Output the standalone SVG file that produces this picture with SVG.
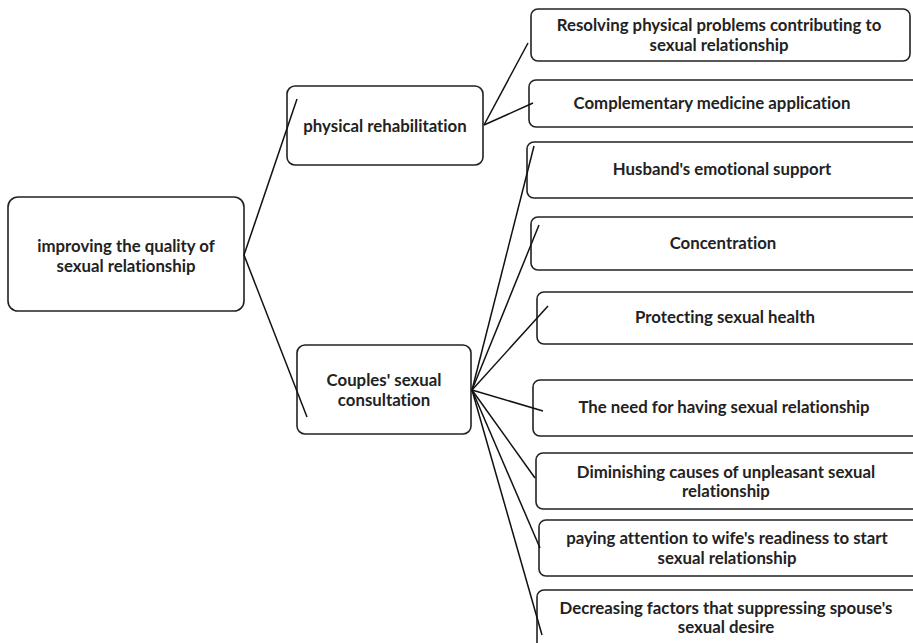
<svg xmlns="http://www.w3.org/2000/svg" width="913" height="643" viewBox="0 0 913 643">
<style>
.box{fill:#fff;stroke:#222;stroke-width:1.6}
.t{font-family:Lato,"Liberation Sans",sans-serif;font-weight:bold;font-size:16.8px;fill:#222;text-anchor:middle;font-variant-ligatures:none}
.c line{stroke:#111;stroke-width:1.5}
</style>
<rect width="913" height="643" fill="#fff"/>
<g id="n-root"><rect class="box" x="8" y="197" width="236" height="114" rx="10"/>
<text class="t" x="126" y="252">improving the quality of</text><text class="t" x="126" y="272">sexual relationship</text></g>
<g id="n-phys"><rect class="box" x="287" y="86" width="196" height="79" rx="8"/>
<text class="t" x="385" y="132">physical rehabilitation</text></g>
<g id="n-couples"><rect class="box" x="297" y="345" width="174" height="89" rx="8"/>
<text class="t" x="384" y="386">Couples' sexual</text><text class="t" x="384" y="406">consultation</text></g>
<g id="n-resolving"><rect class="box" x="531" y="9" width="379" height="52" rx="7"/>
<text class="t" x="719" y="31">Resolving physical problems contributing to</text><text class="t" x="719" y="51">sexual relationship</text></g>
<g id="n-complementary"><rect class="box" x="529" y="80" width="390" height="47" rx="7"/>
<text class="t" x="712" y="109">Complementary medicine application</text></g>
<g id="n-husband"><rect class="box" x="527" y="142" width="392" height="56" rx="7"/>
<text class="t" x="722" y="175">Husband's emotional support</text></g>
<g id="n-concentration"><rect class="box" x="531" y="217" width="388" height="53" rx="7"/>
<text class="t" x="723" y="249">Concentration</text></g>
<g id="n-protecting"><rect class="box" x="537" y="292" width="382" height="52" rx="7"/>
<text class="t" x="725" y="323">Protecting sexual health</text></g>
<g id="n-need"><rect class="box" x="533" y="380" width="386" height="56" rx="7"/>
<text class="t" x="724" y="413">The need for having sexual relationship</text></g>
<g id="n-diminishing"><rect class="box" x="536" y="453" width="383" height="56" rx="7"/>
<text class="t" x="726" y="478">Diminishing causes of unpleasant sexual</text><text class="t" x="726" y="497">relationship</text></g>
<g id="n-paying"><rect class="box" x="539" y="520" width="380" height="56" rx="7"/>
<text class="t" x="727" y="544">paying attention to wife's readiness to start</text><text class="t" x="727" y="564">sexual relationship</text></g>
<g id="n-decreasing"><rect class="box" x="537" y="590" width="382" height="60" rx="7"/>
<text class="t" x="726" y="614">Decreasing factors that suppressing spouse's</text><text class="t" x="726" y="633">sexual desire</text></g>
<g id="connectors" class="c">
<line x1="244" y1="255" x2="297" y2="99"/>
<line x1="244" y1="255" x2="307" y2="417"/>
<line x1="484" y1="125" x2="528" y2="43"/>
<line x1="484" y1="125" x2="533" y2="103"/>
<line x1="472" y1="390" x2="534" y2="146"/>
<line x1="472" y1="390" x2="539" y2="225"/>
<line x1="472" y1="390" x2="548" y2="306"/>
<line x1="472" y1="390" x2="543" y2="411"/>
<line x1="472" y1="390" x2="535" y2="478"/>
<line x1="472" y1="390" x2="540" y2="548"/>
<line x1="472" y1="390" x2="542" y2="635"/>
</g>
</svg>
